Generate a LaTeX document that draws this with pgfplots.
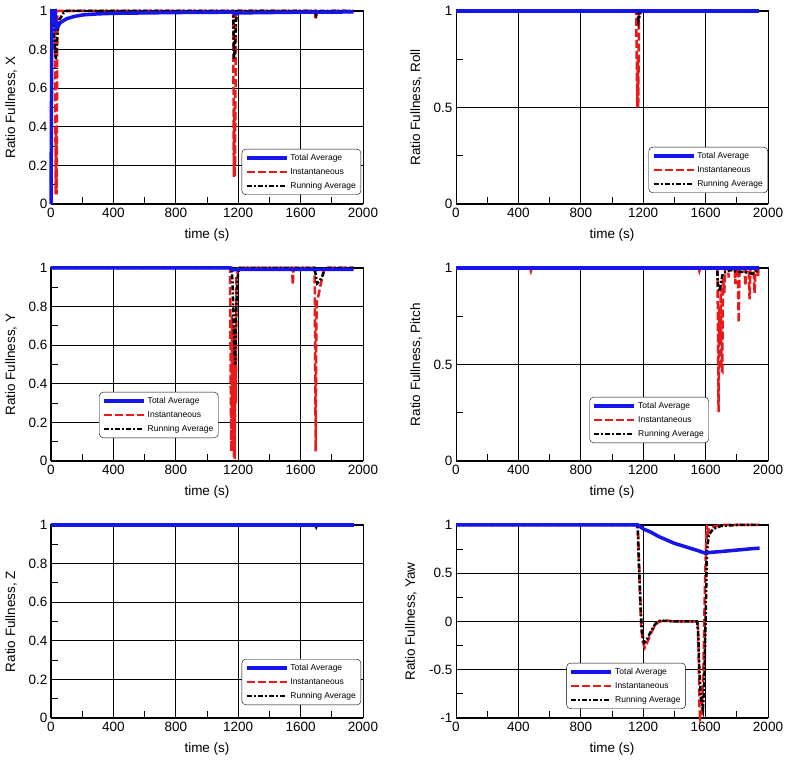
\documentclass[border=0pt]{standalone}
\usepackage{fontspec}
\setmainfont{Liberation Sans}
\usepackage{pgfplots}
\pgfplotsset{compat=1.18}
\definecolor{cblue}{RGB}{20,20,235}
\definecolor{cred}{RGB}{235,25,25}
\pgfplotsset{
  myaxis/.style={
    scale only axis, width=312pt, height=193pt,
    xmin=0, xmax=2000, xtick={0,400,...,2000}, minor x tick num=1,
    minor y tick num=1,
    grid=major, major grid style={black, line width=0.8pt},
    axis line style={black, line width=1pt},
    tick style={black, line width=1pt},
    minor tick length=7pt, major tick length=7pt,
    tick pos=left,
    clip=false,
    tick label style={font=\fontsize{13.5}{15}\selectfont},
    /pgf/number format/assume math mode=true,
    /pgf/number format/1000 sep={},
    scaled ticks=false,
    yticklabel style={/pgf/number format/fixed},
    xticklabel style={/pgf/number format/fixed, /pgf/number format/1000 sep={}, yshift=-1pt},
    label style={font=\fontsize{13.5}{15}\selectfont},
    xlabel={time (s)},
    xlabel style={at={(axis description cs:0.5,0)}, anchor=center, yshift=-31pt},
    ylabel style={at={(axis description cs:-0.128,0.5)}, anchor=center},
    legend style={draw=black, rounded corners=4pt, fill=white,
      font=\fontsize{8.5}{10.5}\selectfont, cells={anchor=west}, inner sep=3pt, row sep=2.5pt},
    legend image code/.code={\draw[sharp corners, ##1] (0pt,0pt) -- (40pt,0pt);},
  },
  tavg/.style={cblue, line width=3.5pt},
  inst/.style={cred, line width=2.5pt, dash pattern=on 8pt off 3pt},
  ravg/.style={black, line width=2.5pt, dash pattern=on 5pt off 2pt on 2pt off 2pt},
}
\begin{document}
\begin{tikzpicture}
\useasboundingbox (0,0) rectangle (788pt,761pt);
% ---------------- X ----------------
\begin{axis}[myaxis, at={(51pt,557pt)}, anchor=south west,
  ymin=0, ymax=1, ytick={0,0.2,...,1}, ylabel={Ratio Fullness, X},
  legend style={at={(0.994,0.047)}, anchor=south east}]
\addlegendimage{tavg}\addlegendimage{inst}\addlegendimage{ravg}
\legend{Total Average, Instantaneous, Running Average}
\addplot[inst, forget plot] coordinates {(0,0.98)(26,1)(30,0.05)(33,0.4)(36,0.05)(41,1)(60,1)(400,1)(800,1)(1168,1)(1172,0.14)(1176,0.5)(1179,0.14)(1186,1)(1400,1)(1690,1)(1697,0.955)(1704,1)(1800,0.99)(1810,1)(1940,1)};
\addplot[ravg, forget plot] coordinates {(5,1)(15,0.95)(25,0.8)(32,0.75)(38,0.85)(50,0.95)(80,0.99)(100,1)(400,1)(800,1)(1168,1)(1174,0.75)(1180,0.85)(1186,0.95)(1196,1)(1400,1)(1695,1)(1700,0.98)(1710,1)(1940,1)};
\addplot[tavg, forget plot] coordinates {(0,0)(3,0.5)(6,1)(27,1)(33,0.91)(45,0.92)(60,0.94)(100,0.96)(150,0.972)(207,0.98)(300,0.985)(400,0.988)(800,0.992)(1170,0.994)(1180,0.985)(1200,0.99)(1600,0.994)(1940,0.995)};
\end{axis}
% ---------------- Roll ----------------
\begin{axis}[myaxis, at={(456pt,557pt)}, anchor=south west,
  ymin=0, ymax=1, ytick={0,0.5,1}, ylabel={Ratio Fullness, Roll},
  legend style={at={(1.0,0.057)}, anchor=south east}]
\addlegendimage{tavg}\addlegendimage{inst}\addlegendimage{ravg}
\legend{Total Average, Instantaneous, Running Average}
\addplot[inst, forget plot] coordinates {(0,1)(1155,1)(1162,0.5)(1166,0.75)(1168,0.5)(1173,1)(1940,1)};
\addplot[ravg, forget plot] coordinates {(0,1)(1164,1)(1170,0.95)(1178,0.98)(1186,1)(1940,1)};
\addplot[tavg, forget plot] coordinates {(0,1)(1940,1)};
\end{axis}
% ---------------- Y ----------------
\begin{axis}[myaxis, at={(51pt,300pt)}, anchor=south west,
  ymin=0, ymax=1, ytick={0,0.2,...,1}, ylabel={Ratio Fullness, Y},
  legend style={at={(0.154,0.119)}, anchor=south west}]
\addlegendimage{tavg}\addlegendimage{inst}\addlegendimage{ravg}
\legend{Total Average, Instantaneous, Running Average}
\addplot[inst, forget plot] coordinates {(0,1)(1148,1)(1152,0.4)(1156,0.05)(1160,0.75)(1164,0.1)(1168,0.6)(1172,0.02)(1176,0.7)(1178,0.01)(1182,0.6)(1185,0.3)(1189,0.95)(1196,0.98)(1202,1)(1545,1)(1550,0.914)(1556,1)(1690,1)(1695,0.3)(1697,0.05)(1700,0.6)(1703,0.82)(1715,0.86)(1730,0.92)(1745,0.97)(1755,1)(1940,1)};
\addplot[ravg, forget plot] coordinates {(0,1)(1158,1)(1164,0.92)(1170,0.75)(1175,0.6)(1181,0.5)(1185,0.72)(1192,0.9)(1200,0.98)(1210,1)(1690,1)(1700,0.95)(1706,0.92)(1720,0.93)(1740,0.96)(1755,1)(1940,1)};
\addplot[tavg, forget plot] coordinates {(0,1)(1150,1)(1165,0.99)(1200,0.993)(1940,0.993)};
\end{axis}
% ---------------- Pitch ----------------
\begin{axis}[myaxis, at={(456pt,300pt)}, anchor=south west,
  ymin=0, ymax=1, ytick={0,0.5,1}, ylabel={Ratio Fullness, Pitch},
  legend style={at={(0.428,0.093)}, anchor=south west}]
\addlegendimage{tavg}\addlegendimage{inst}\addlegendimage{ravg}
\legend{Total Average, Instantaneous, Running Average}
\addplot[inst, forget plot] coordinates {(0,1)(395,1)(400,0.985)(405,1)(475,1)(480,0.985)(485,1)(1555,1)(1560,0.985)(1565,1)(1676,1)(1680,0.6)(1683,0.253)(1687,0.8)(1692,0.6)(1697,0.9)(1702,0.47)(1707,0.465)(1711,0.95)(1720,0.87)(1726,1)(1744,1)(1748,0.95)(1752,1)(1786,1)(1790,0.917)(1795,1)(1806,1)(1812,0.717)(1818,1)(1850,1)(1855,0.908)(1860,1)(1876,1)(1882,0.838)(1888,1)(1908,1)(1914,0.87)(1920,1)(1932,1)(1936,0.96)(1940,1)};
\addplot[ravg, forget plot] coordinates {(0,1)(1674,1)(1680,0.9)(1690,0.88)(1700,0.93)(1710,0.97)(1730,0.98)(1760,0.99)(1800,0.98)(1850,0.98)(1900,0.97)(1940,0.99)};
\addplot[tavg, forget plot] coordinates {(0,1)(1940,1)};
\end{axis}
% ---------------- Z ----------------
\begin{axis}[myaxis, at={(51pt,43pt)}, anchor=south west,
  ymin=0, ymax=1, ytick={0,0.2,...,1}, ylabel={Ratio Fullness, Z},
  legend style={at={(0.994,0.067)}, anchor=south east}]
\addlegendimage{tavg}\addlegendimage{inst}\addlegendimage{ravg}
\legend{Total Average, Instantaneous, Running Average}
\addplot[inst, forget plot] coordinates {(0,1)(1940,1)};
\addplot[ravg, forget plot] coordinates {(0,1)(1695,1)(1700,0.99)(1705,1)(1940,1)};
\addplot[tavg, forget plot] coordinates {(0,1)(1940,1)};
\end{axis}
% ---------------- Yaw ----------------
\begin{axis}[myaxis, at={(456pt,43pt)}, anchor=south west,
  ymin=-1, ymax=1, ytick={-1,-0.5,0,0.5,1}, ylabel={Ratio Fullness, Yaw},
  ylabel style={at={(axis description cs:-0.145,0.5)}},
  legend style={at={(0.354,0.047)}, anchor=south west}]
\addlegendimage{tavg}\addlegendimage{inst}\addlegendimage{ravg}
\legend{Total Average, Instantaneous, Running Average}
\addplot[inst, forget plot] coordinates {(0,1)(1160,1)(1168,0.9)(1176,0.5)(1185,0)(1195,-0.2)(1210,-0.27)(1225,-0.22)(1250,-0.12)(1275,-0.04)(1300,0)(1350,0.01)(1400,0)(1550,0)(1555,-0.3)(1561,-0.9)(1566,-1)(1576,-0.95)(1586,-0.5)(1595,0.3)(1603,0.8)(1608,1)(1612,0.9)(1620,0.95)(1650,0.98)(1700,1)(1940,1)};
\addplot[ravg, forget plot] coordinates {(0,1)(1164,1)(1172,0.6)(1182,0.2)(1192,-0.1)(1205,-0.22)(1220,-0.2)(1250,-0.1)(1280,-0.02)(1310,0.01)(1400,0)(1545,0)(1552,-0.1)(1560,-0.5)(1570,-0.8)(1583,-0.9)(1592,-0.6)(1600,0)(1608,0.7)(1620,0.9)(1650,0.96)(1700,0.99)(1800,1)(1940,1)};
\addplot[tavg, forget plot] coordinates {(0,1)(1166,1)(1200,0.96)(1250,0.925)(1300,0.88)(1350,0.845)(1400,0.81)(1450,0.785)(1500,0.76)(1550,0.735)(1594,0.71)(1620,0.715)(1700,0.725)(1800,0.74)(1900,0.755)(1946,0.76)};
\end{axis}
\end{tikzpicture}
\end{document}
